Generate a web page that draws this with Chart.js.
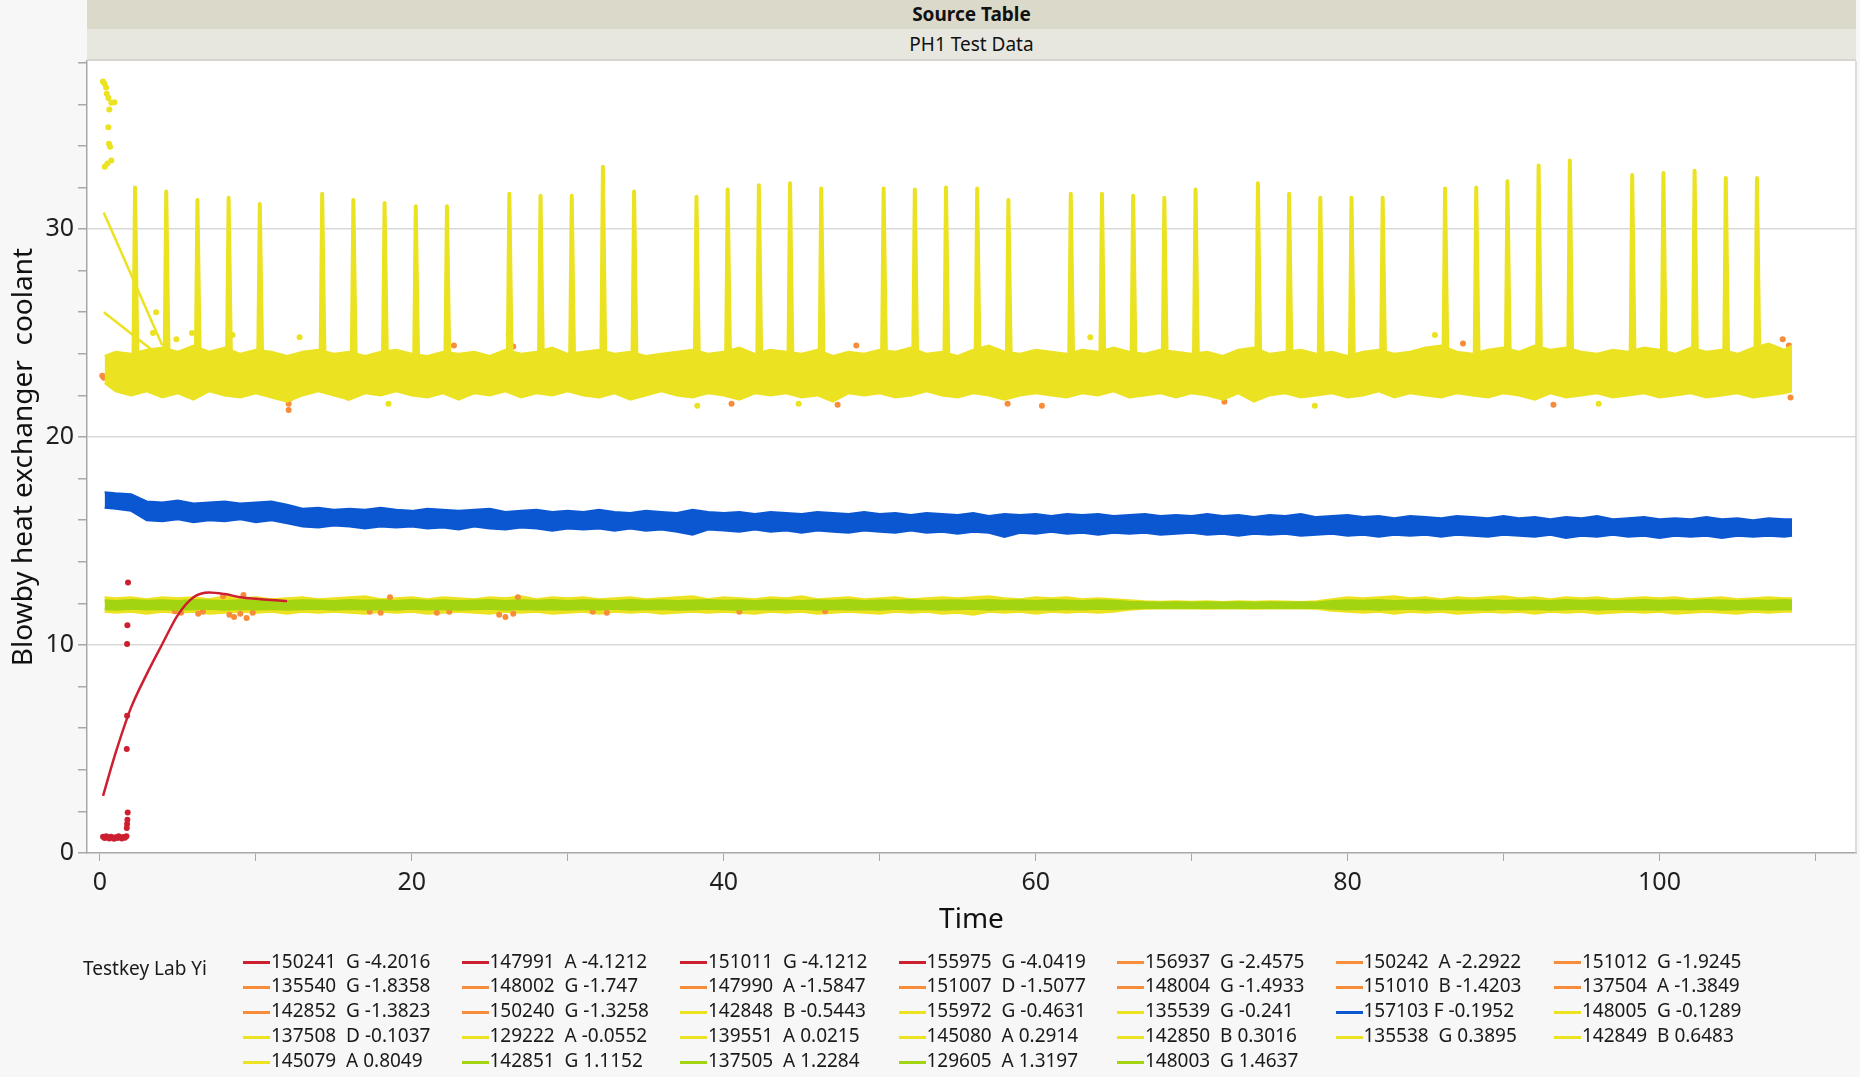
<!DOCTYPE html>
<html>
<head>
<meta charset="utf-8">
<title>PH1 Test Data</title>
<script src="https://cdn.jsdelivr.net/npm/chart.js@4.4.1/dist/chart.umd.min.js"></script>
<style>
  html, body { margin: 0; padding: 0; background: #f7f7f7; }
  body { font-family: "Noto Sans", sans-serif; color: #1a1a1a; }
  #page { position: relative; width: 1860px; height: 1077px; overflow: hidden; }
  #chart { position: absolute; left: 0; top: 0; }
  .band { position: absolute; left: 87px; width: 1769px; text-align: center; font-size: 19px; color: #111; }
  #srcTable { top: 0; height: 29px; line-height: 29px; background: #dbd9c9; font-weight: bold; }
  #subTitle { top: 29px; height: 30px; line-height: 30px; background: #e7e7df; border-bottom: 2px solid #d6d6ce; }
  #legendTitle { position: absolute; left: 83px; top: 955px; font-size: 19px; line-height: 26px; }
  .item { position: absolute; font-size: 19px; white-space: pre; height: 24px; line-height: 24px; }
  .item i { display: inline-block; width: 27px; height: 3px; vertical-align: middle; margin-right: 1px; }
</style>
</head>
<body>
<div id="page">
  <canvas id="chart" width="1860" height="1077"></canvas>
  <div class="band" id="srcTable">Source Table</div>
  <div class="band" id="subTitle">PH1 Test Data</div>
  <div id="legendTitle">Testkey Lab Yi</div>
  <div id="legend"></div>
</div>
<script>
// axis ticks (labels only on every 20 / every 10)
const xTicks = [0, 10, 20, 30, 40, 50, 60, 70, 80, 90, 100, 110];
const yTicks = [0, 2, 4, 6, 8, 10, 12, 14, 16, 18, 20, 22, 24, 26, 28, 30, 32, 34, 36, 38];

// time grid shared by the band outlines (upper / lower edge)
const timeGrid = [0.3, 1, 2, 3, 4, 5, 6, 7, 8, 9,
  10, 11, 12, 13, 14, 15, 16, 17, 18, 19,
  20, 21, 22, 23, 24, 25, 26, 27, 28, 29,
  30, 31, 32, 33, 34, 35, 36, 37, 38, 39,
  40, 41, 42, 43, 44, 45, 46, 47, 48, 49,
  50, 51, 52, 53, 54, 55, 56, 57, 58, 59,
  60, 61, 62, 63, 64, 65, 66, 67, 68, 69,
  70, 71, 72, 73, 74, 75, 76, 77, 78, 79,
  80, 81, 82, 83, 84, 85, 86, 87, 88, 89,
  90, 91, 92, 93, 94, 95, 96, 97, 98, 99,
  100, 101, 102, 103, 104, 105, 106, 107, 108, 108.5];

// yellow / orange group around 23
const yellowTop = [23.9, 24.1, 24.0, 24.2, 24.3, 24.1, 24.4, 24.1, 24.3, 24.0,
  24.2, 24.1, 23.9, 24.1, 24.2, 24.0, 24.1, 23.9, 24.1, 24.2,
  24.0, 23.9, 24.1, 24.0, 24.1, 23.9, 24.2, 24.0, 24.1, 24.3,
  24.0, 24.1, 24.2, 24.0, 24.1, 23.9, 24.0, 24.1, 24.2, 24.0,
  24.1, 24.3, 24.0, 24.2, 24.1, 24.0, 24.2, 23.9, 24.1, 24.0,
  24.2, 24.1, 24.3, 24.0, 24.1, 23.9, 24.2, 24.4, 24.1, 24.0,
  24.2, 24.1, 24.0, 24.2, 24.1, 24.3, 24.1, 24.0, 24.2, 24.1,
  24.0, 24.1, 23.9, 24.2, 24.3, 24.0, 24.1, 24.2, 24.0, 24.1,
  23.9, 24.1, 24.2, 24.0, 24.1, 24.3, 24.4, 24.1, 24.0, 24.2,
  24.3, 24.1, 24.4, 24.2, 24.3, 24.1, 24.0, 24.2, 24.1, 24.3,
  24.2, 24.0, 24.3, 24.1, 24.2, 24.0, 24.3, 24.5, 24.2, 24.4];
const yellowBottom = [22.6, 22.2, 22.0, 22.2, 21.9, 22.1, 21.8, 22.2, 22.0, 21.9,
  22.1, 21.9, 21.7, 22.0, 22.2, 22.0, 21.8, 22.1, 22.0, 22.2,
  22.0, 21.9, 22.1, 21.8, 22.1, 22.0, 22.2, 21.9, 22.1, 22.0,
  22.2, 22.0, 21.9, 22.1, 21.8, 22.0, 22.2, 22.0, 21.9, 22.1,
  22.0, 21.8, 22.1, 22.0, 22.1, 21.9, 22.0, 21.7, 22.1, 22.0,
  22.1, 21.9, 22.0, 22.2, 22.0, 21.9, 22.1, 22.0, 21.8, 22.0,
  22.1, 22.0, 21.9, 22.1, 22.0, 22.2, 21.9, 22.0, 22.1, 21.9,
  22.1, 22.0, 21.8, 22.1, 21.7, 22.0, 22.1, 21.9, 22.0, 22.1,
  21.9, 22.0, 22.2, 21.9, 22.1, 22.0, 21.9, 22.1, 22.0, 21.9,
  22.1, 22.0, 21.8, 22.1, 21.9, 22.0, 22.1, 21.9, 22.0, 22.1,
  21.9, 22.0, 22.1, 21.9, 22.0, 22.1, 21.9, 22.0, 22.1, 22.2];

// blue group (157103 F)
const blueTop = [17.35, 17.3, 17.25, 16.9, 16.85, 16.95, 16.8, 16.85, 16.9, 16.8,
  16.85, 16.9, 16.75, 16.55, 16.6, 16.5, 16.55, 16.5, 16.6, 16.5,
  16.45, 16.55, 16.5, 16.45, 16.5, 16.55, 16.4, 16.45, 16.5, 16.4,
  16.45, 16.4, 16.5, 16.4, 16.35, 16.45, 16.4, 16.35, 16.5, 16.4,
  16.35, 16.4, 16.3, 16.4, 16.35, 16.3, 16.4, 16.35, 16.3, 16.4,
  16.3, 16.35, 16.25, 16.35, 16.3, 16.25, 16.35, 16.2, 16.3, 16.25,
  16.3, 16.2, 16.3, 16.25, 16.3, 16.2, 16.25, 16.3, 16.2, 16.25,
  16.2, 16.3, 16.2, 16.25, 16.15, 16.25, 16.2, 16.3, 16.15, 16.2,
  16.25, 16.15, 16.2, 16.1, 16.2, 16.15, 16.1, 16.2, 16.15, 16.1,
  16.2, 16.1, 16.15, 16.05, 16.15, 16.1, 16.2, 16.05, 16.1, 16.15,
  16.05, 16.1, 16.05, 16.15, 16.05, 16.1, 16.0, 16.1, 16.05, 16.05];
const blueBottom = [16.6, 16.55, 16.45, 16.0, 15.95, 16.05, 15.9, 16.0, 15.95, 16.05,
  15.9, 16.0, 15.85, 15.7, 15.65, 15.75, 15.7, 15.6, 15.7, 15.65,
  15.7, 15.6, 15.65, 15.55, 15.7, 15.6, 15.55, 15.65, 15.6, 15.5,
  15.6, 15.55, 15.6, 15.5, 15.6, 15.5, 15.55, 15.45, 15.3, 15.55,
  15.5, 15.45, 15.55, 15.45, 15.5, 15.4, 15.5, 15.45, 15.4, 15.5,
  15.45, 15.4, 15.5, 15.4, 15.45, 15.35, 15.45, 15.4, 15.2, 15.4,
  15.35, 15.45, 15.35, 15.4, 15.3, 15.4, 15.35, 15.4, 15.3, 15.35,
  15.4, 15.3, 15.35, 15.25, 15.35, 15.3, 15.35, 15.25, 15.3, 15.35,
  15.25, 15.3, 15.2, 15.3, 15.25, 15.3, 15.2, 15.3, 15.25, 15.2,
  15.3, 15.25, 15.2, 15.3, 15.15, 15.25, 15.2, 15.3, 15.2, 15.25,
  15.15, 15.25, 15.2, 15.25, 15.15, 15.25, 15.2, 15.25, 15.2, 15.25];

// group around 12: yellow halo and green core
const haloTop = [12.3, 12.25, 12.3, 12.2, 12.3, 12.25, 12.3, 12.2, 12.35, 12.25,
  12.3, 12.2, 12.25, 12.3, 12.2, 12.25, 12.3, 12.35, 12.2, 12.25,
  12.3, 12.2, 12.3, 12.25, 12.2, 12.3, 12.25, 12.35, 12.2, 12.3,
  12.25, 12.3, 12.2, 12.25, 12.3, 12.2, 12.25, 12.3, 12.35, 12.2,
  12.3, 12.25, 12.2, 12.3, 12.25, 12.35, 12.2, 12.25, 12.3, 12.2,
  12.25, 12.3, 12.2, 12.25, 12.3, 12.25, 12.3, 12.35, 12.25, 12.2,
  12.3, 12.25, 12.3, 12.2, 12.25, 12.2, 12.15, 12.1, 12.08, 12.1,
  12.08, 12.1, 12.07, 12.1, 12.08, 12.1, 12.09, 12.07, 12.1, 12.2,
  12.3, 12.25, 12.3, 12.35, 12.25, 12.3, 12.2, 12.3, 12.25, 12.3,
  12.35, 12.25, 12.3, 12.2, 12.3, 12.25, 12.3, 12.2, 12.25, 12.3,
  12.25, 12.3, 12.2, 12.25, 12.3, 12.2, 12.25, 12.3, 12.25, 12.25];
const haloBottom = [11.6, 11.55, 11.6, 11.5, 11.6, 11.55, 11.6, 11.5, 11.55, 11.6,
  11.55, 11.6, 11.5, 11.6, 11.55, 11.6, 11.55, 11.5, 11.6, 11.55,
  11.6, 11.5, 11.55, 11.6, 11.55, 11.5, 11.6, 11.55, 11.6, 11.5,
  11.55, 11.6, 11.5, 11.6, 11.55, 11.6, 11.5, 11.55, 11.6, 11.55,
  11.6, 11.55, 11.5, 11.6, 11.55, 11.6, 11.5, 11.55, 11.6, 11.55,
  11.5, 11.6, 11.55, 11.6, 11.5, 11.55, 11.45, 11.6, 11.55, 11.6,
  11.5, 11.6, 11.55, 11.6, 11.55, 11.6, 11.7, 11.74, 11.76, 11.75,
  11.76, 11.74, 11.76, 11.75, 11.74, 11.76, 11.75, 11.76, 11.74, 11.65,
  11.6, 11.55, 11.6, 11.5, 11.6, 11.55, 11.6, 11.5, 11.55, 11.6,
  11.55, 11.6, 11.5, 11.6, 11.55, 11.6, 11.5, 11.55, 11.6, 11.55,
  11.6, 11.5, 11.55, 11.6, 11.55, 11.5, 11.6, 11.55, 11.6, 11.6];
const greenTop = [12.15, 12.12, 12.16, 12.13, 12.15, 12.12, 12.16, 12.14, 12.12, 12.15,
  12.13, 12.16, 12.12, 12.15, 12.14, 12.12, 12.16, 12.13, 12.15, 12.12,
  12.16, 12.13, 12.15, 12.12, 12.14, 12.16, 12.12, 12.15, 12.13, 12.16,
  12.12, 12.15, 12.14, 12.12, 12.16, 12.13, 12.15, 12.12, 12.14, 12.16,
  12.13, 12.15, 12.12, 12.16, 12.14, 12.12, 12.15, 12.13, 12.16, 12.12,
  12.15, 12.13, 12.16, 12.12, 12.14, 12.15, 12.12, 12.16, 12.13, 12.15,
  12.12, 12.16, 12.14, 12.12, 12.15, 12.13, 12.08, 12.06, 12.05, 12.06,
  12.05, 12.06, 12.05, 12.06, 12.05, 12.06, 12.05, 12.06, 12.05, 12.12,
  12.15, 12.13, 12.16, 12.12, 12.14, 12.16, 12.12, 12.15, 12.13, 12.16,
  12.12, 12.15, 12.14, 12.12, 12.16, 12.13, 12.15, 12.12, 12.14, 12.16,
  12.13, 12.15, 12.12, 12.16, 12.14, 12.12, 12.15, 12.13, 12.16, 12.14];
const greenBottom = [11.72, 11.7, 11.74, 11.71, 11.73, 11.7, 11.72, 11.74, 11.7, 11.73,
  11.71, 11.73, 11.7, 11.72, 11.74, 11.7, 11.73, 11.71, 11.72, 11.7,
  11.74, 11.71, 11.73, 11.7, 11.72, 11.74, 11.7, 11.73, 11.71, 11.72,
  11.7, 11.73, 11.71, 11.74, 11.7, 11.72, 11.73, 11.7, 11.71, 11.74,
  11.72, 11.7, 11.73, 11.71, 11.72, 11.74, 11.7, 11.73, 11.71, 11.72,
  11.7, 11.74, 11.71, 11.73, 11.7, 11.72, 11.74, 11.7, 11.73, 11.71,
  11.72, 11.7, 11.73, 11.71, 11.74, 11.72, 11.76, 11.78, 11.79, 11.78,
  11.79, 11.78, 11.79, 11.78, 11.79, 11.78, 11.79, 11.78, 11.79, 11.74,
  11.71, 11.73, 11.7, 11.72, 11.74, 11.7, 11.73, 11.71, 11.72, 11.7,
  11.74, 11.71, 11.73, 11.7, 11.72, 11.74, 11.7, 11.73, 11.71, 11.72,
  11.7, 11.73, 11.71, 11.74, 11.7, 11.72, 11.73, 11.7, 11.72, 11.72];

// spikes of the yellow group
const spikeTime = [2.25, 4.25, 6.25, 8.25, 10.25, 14.25, 16.25, 18.25, 20.25, 22.25,
  26.25, 28.25, 30.25, 32.25, 34.25, 38.25, 40.25, 42.25, 44.25, 46.25,
  50.25, 52.25, 54.25, 56.25, 58.25, 62.25, 64.25, 66.25, 68.25, 70.25,
  74.25, 76.25, 78.25, 80.25, 82.25, 86.25, 88.25, 90.25, 92.25, 94.25,
  98.25, 100.25, 102.25, 104.25, 106.25];
const spikePeak = [32.0, 31.8, 31.4, 31.5, 31.2, 31.7, 31.4, 31.25, 31.1, 31.1,
  31.7, 31.6, 31.6, 33.0, 31.8, 31.55, 31.9, 32.1, 32.2, 31.95,
  31.95, 31.9, 32.0, 31.95, 31.4, 31.7, 31.7, 31.6, 31.5, 31.9,
  32.2, 31.7, 31.5, 31.5, 31.5, 31.95, 32.0, 32.3, 33.05, 33.3,
  32.6, 32.7, 32.8, 32.45, 32.45];
const spikeFloor = 23.7;

// yellow points at the start, above 33
const earlyTime = [0.19, 0.29, 0.39, 0.44, 0.54, 0.73, 0.93, 0.6, 0.54, 0.58, 0.65, 0.73, 0.48, 0.31];
const earlyValue = [37.1, 37.0, 36.8, 36.5, 36.3, 36.07, 36.1, 35.75, 34.9, 34.1, 33.96, 33.3, 33.15, 33.0];

// two yellow fit lines near the start
const fitATime = [0.24, 4.0];
const fitAValue = [30.8, 24.4];
const fitBTime = [0.25, 3.65];
const fitBValue = [26.0, 24.0];

// loose yellow points outside the band
const looseTime = [3.6, 3.4, 5.9, 4.9, 8.5, 12.8, 26.2, 18.5, 38.3, 44.8, 63.5, 77.9, 96.1, 85.6];
const looseValue = [26.0, 25.0, 25.0, 24.7, 24.9, 24.8, 24.9, 21.6, 21.5, 21.6, 24.8, 21.5, 21.6, 24.9];

// orange points visible at band edges
const orangeTime = [0.15, 0.25, 0.35, 12.1, 12.1, 12.2, 15.9, 22.7, 26.5, 40.5, 47.3, 48.5, 58.2, 60.4, 72.1, 87.4, 93.2, 107.9, 108.3, 108.4,
  4.8, 5.2, 6.3, 6.6, 7.9, 8.3, 8.6, 9.0, 9.4, 9.8, 9.2, 17.3, 18.0, 18.6, 21.6, 22.4, 25.6, 26.0, 26.5, 26.8, 31.6, 32.5, 41.0, 46.5];
const orangeValue = [22.95, 22.85, 22.9, 21.3, 21.6, 21.85, 21.9, 24.4, 24.35, 21.6, 21.55, 24.4, 21.6, 21.5, 21.7, 24.5, 21.55, 24.7, 24.4, 21.9,
  11.62, 11.55, 11.5, 11.6, 12.35, 11.45, 11.35, 11.5, 11.3, 11.55, 12.4, 11.6, 11.55, 12.3, 11.55, 11.6, 11.45, 11.35, 11.5, 12.3, 11.6, 11.55, 11.6, 11.62];

// red group: points and fitted curve
const redTime = [0.2, 0.3, 0.4, 0.5, 0.6, 0.7, 0.8, 0.9, 1.0, 1.1, 1.2, 1.3, 1.4, 1.5, 1.6, 1.7,
  1.72, 1.74, 1.76, 1.78, 1.72, 1.74, 1.74, 1.76, 1.8];
const redValue = [0.78, 0.72, 0.8, 0.75, 0.7, 0.78, 0.74, 0.68, 0.76, 0.72, 0.8, 0.74, 0.7, 0.77, 0.73, 0.8,
  1.2, 1.4, 1.6, 1.95, 5.0, 6.6, 10.05, 10.95, 13.0];
const redFitTime = [0.2, 1, 2, 3, 4, 5, 6, 7, 8, 9, 10, 11, 12];
const redFitValue = [2.75, 4.8, 7.0, 8.6, 10.05, 11.45, 12.3, 12.53, 12.45, 12.3, 12.22, 12.16, 12.12];

// legend: Testkey Lab Yi
const legendLabels = ['150241  G -4.2016', '147991  A -4.1212', '151011  G -4.1212', '155975  G -4.0419', '156937  G -2.4575', '150242  A -2.2922', '151012  G -1.9245',
  '135540  G -1.8358', '148002  G -1.747', '147990  A -1.5847', '151007  D -1.5077', '148004  G -1.4933', '151010  B -1.4203', '137504  A -1.3849',
  '142852  G -1.3823', '150240  G -1.3258', '142848  B -0.5443', '155972  G -0.4631', '135539  G -0.241', '157103 F -0.1952', '148005  G -0.1289',
  '137508  D -0.1037', '129222  A -0.0552', '139551  A 0.0215', '145080  A 0.2914', '142850  B 0.3016', '135538  G 0.3895', '142849  B 0.6483',
  '145079  A 0.8049', '142851  G 1.1152', '137505  A 1.2284', '129605  A 1.3197', '148003  G 1.4637'];
const legendGroups = ['red', 'red', 'red', 'red', 'orange', 'orange', 'orange',
  'orange', 'orange', 'orange', 'orange', 'orange', 'orange', 'orange',
  'orange', 'orange', 'yellow', 'yellow', 'yellow', 'blue', 'yellow',
  'yellow', 'yellow', 'yellow', 'yellow', 'yellow', 'yellow', 'yellow',
  'yellow', 'green', 'green', 'green', 'green'];

const colors = {
  red: '#cc1f30',
  orange: '#f78d3b',
  yellow: '#ebe221',
  blue: '#0b57d2',
  green: '#a3d411'
};
const family = '"Noto Sans", sans-serif';

function pts(xs, ys) {
  return xs.map((x, i) => ({ x: x, y: ys[i] }));
}

// upper edge fills down to the dataset right after it
function band(top, bottom, color, order) {
  return [
    { data: pts(timeGrid, top), borderColor: color, backgroundColor: color, borderWidth: 2,
      pointRadius: 0, fill: '+1', order: order },
    { data: pts(timeGrid, bottom), borderColor: color, borderWidth: 2, pointRadius: 0,
      fill: false, order: order }
  ];
}

function dots(xs, ys, color, r, order) {
  return { data: pts(xs, ys), showLine: false, pointRadius: r, pointBorderWidth: 0,
    pointBackgroundColor: color, order: order };
}

const spikeData = [];
spikeTime.forEach((t, i) => {
  spikeData.push({ x: t - 0.1, y: spikeFloor }, { x: t, y: spikePeak[i] },
    { x: t + 0.15, y: spikeFloor }, { x: t, y: null });
});

const datasets = [].concat(
  band(haloTop, haloBottom, colors.yellow, 10),
  [dots(orangeTime, orangeValue, colors.orange, 3, 9)],
  band(greenTop, greenBottom, colors.green, 8),
  band(blueTop, blueBottom, colors.blue, 7),
  band(yellowTop, yellowBottom, colors.yellow, 6),
  [{ data: spikeData, borderColor: colors.yellow, borderWidth: 4, pointRadius: 0,
     spanGaps: false, borderJoinStyle: 'round', fill: false, order: 5 }],
  [dots(looseTime, looseValue, colors.yellow, 3, 5)],
  [{ data: pts(fitATime, fitAValue), borderColor: colors.yellow, borderWidth: 2.5, pointRadius: 0, fill: false, order: 4 },
   { data: pts(fitBTime, fitBValue), borderColor: colors.yellow, borderWidth: 2.5, pointRadius: 0, fill: false, order: 4 }],
  [dots(earlyTime, earlyValue, colors.yellow, 3, 4)],
  [dots(redTime, redValue, colors.red, 3, 2)],
  [{ data: pts(redFitTime, redFitValue), borderColor: colors.red, borderWidth: 2.5, pointRadius: 0,
     cubicInterpolationMode: 'monotone', fill: false, order: 1 }]
);

const plotFrame = {
  id: 'plotFrame',
  beforeDraw(chart) {
    const { ctx, chartArea: a } = chart;
    ctx.save();
    ctx.fillStyle = '#ffffff';
    ctx.fillRect(a.left, a.top, a.right - a.left, a.bottom - a.top);
    ctx.restore();
  },
  afterDraw(chart) {
    const { ctx, chartArea: a } = chart;
    ctx.save();
    ctx.strokeStyle = '#d2d2d2';
    ctx.lineWidth = 1.5;
    ctx.beginPath();
    ctx.moveTo(a.right, a.top);
    ctx.lineTo(a.right, a.bottom);
    ctx.stroke();
    ctx.restore();
  }
};

new Chart(document.getElementById('chart').getContext('2d'), {
  type: 'line',
  data: { datasets: datasets },
  options: {
    responsive: false,
    animation: false,
    devicePixelRatio: 1,
    layout: { padding: { left: 0, top: 61, right: 4, bottom: 134 } },
    plugins: { legend: { display: false }, tooltip: { enabled: false } },
    scales: {
      x: {
        type: 'linear',
        min: -0.83,
        max: 112.6,
        afterFit: s => { s.height = 90; },
        afterBuildTicks: s => { s.ticks = xTicks.map(v => ({ value: v })); },
        grid: { drawOnChartArea: false, tickLength: 8, tickColor: '#a8a8a8' },
        border: { color: '#a8a8a8', width: 1.5 },
        ticks: {
          autoSkip: false, maxRotation: 0, padding: 7, color: '#1f1f1f',
          font: { size: 25, family: family },
          callback: v => (v % 20 === 0 ? String(v) : '')
        },
        title: { display: true, text: 'Time', color: '#111', font: { size: 28, family: family },
                 padding: { top: 0, bottom: 6 } }
      },
      y: {
        min: 0,
        max: 38.08,
        afterFit: s => { s.width = 87; },
        afterBuildTicks: s => { s.ticks = yTicks.map(v => ({ value: v })); },
        grid: {
          color: c => (c.tick && c.tick.value > 0 && c.tick.value % 10 === 0 ? '#d9d9d9' : 'rgba(0,0,0,0)'),
          lineWidth: 1.5, tickLength: 9, tickColor: '#a8a8a8'
        },
        border: { color: '#a8a8a8', width: 1.5 },
        ticks: {
          autoSkip: false, padding: 4, color: '#1f1f1f',
          font: { size: 25, family: family },
          callback: v => (v % 10 === 0 ? String(v) : '')
        },
        title: { display: true, text: 'Blowby heat exchanger  coolant', color: '#111',
                 font: { size: 28, family: family }, padding: { top: 7, bottom: 0 } }
      }
    }
  },
  plugins: [plotFrame]
});

// legend laid out in 7 columns like the original
const legendBox = document.getElementById('legend');
legendLabels.forEach((label, i) => {
  const col = i % 7;
  const row = Math.floor(i / 7);
  const el = document.createElement('div');
  el.className = 'item';
  el.style.left = (243 + col * 218.5) + 'px';
  el.style.top = (948.5 + row * 24.9) + 'px';
  const mark = document.createElement('i');
  mark.style.background = colors[legendGroups[i]];
  el.appendChild(mark);
  el.appendChild(document.createTextNode(label));
  legendBox.appendChild(el);
});
</script>
</body>
</html>
